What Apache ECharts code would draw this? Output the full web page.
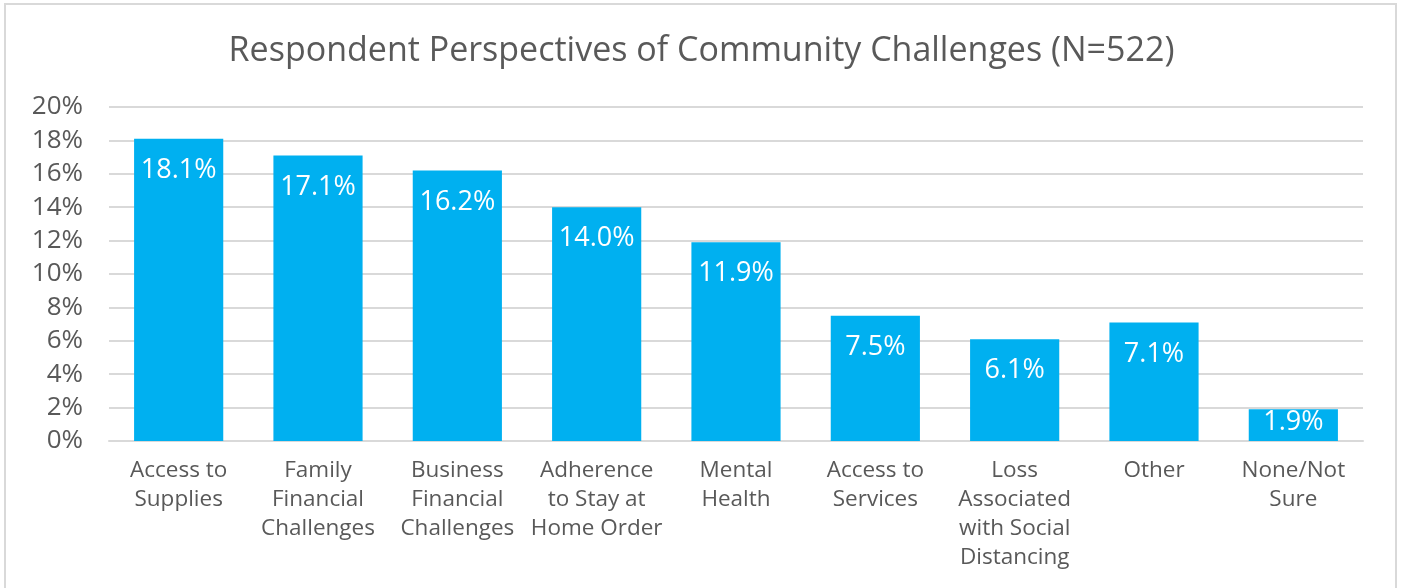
<!DOCTYPE html>
<html>
<head>
<meta charset="utf-8">
<script src="https://cdn.jsdelivr.net/npm/echarts@6/dist/echarts.min.js"></script>
<style>
  html, body { margin: 0; padding: 0; background: #fff; }
  #chart { width: 1403px; height: 588px; }
</style>
</head>
<body>
<div id="chart"></div>
<script>
const categories = [
  'Access to\nSupplies',
  'Family\nFinancial\nChallenges',
  'Business\nFinancial\nChallenges',
  'Adherence\nto Stay at\nHome Order',
  'Mental\nHealth',
  'Access to\nServices',
  'Loss\nAssociated\nwith Social\nDistancing',
  'Other',
  'None/Not\nSure'
];
const values = [18.1, 17.1, 16.2, 14.0, 11.9, 7.5, 6.1, 7.1, 1.9];
const yTicks = [0, 2, 4, 6, 8, 10, 12, 14, 16, 18, 20];

const FONT = '"Open Sans", "Noto Sans", sans-serif';
const textColor = '#595959';
const barColor = '#00B0F0';

const chart = echarts.init(document.getElementById('chart'));

const option = {
  animation: false,
  title: {
    text: 'Respondent Perspectives of Community Challenges (N=522)',
    left: 'center',
    top: 29,
    textStyle: { color: textColor, fontFamily: FONT, fontSize: 34, fontWeight: 'normal' }
  },
  graphic: [{
    type: 'rect',
    shape: { x: 5, y: 4, width: 1391, height: 620 },
    style: { fill: 'none', stroke: '#d9d9d9', lineWidth: 2 },
    silent: true
  }],
  grid: { left: 109, right: 40, top: 107, bottom: 147 },
  xAxis: {
    type: 'category',
    data: categories,
    axisLine: { show: true, lineStyle: { color: '#d9d9d9', width: 2 } },
    axisTick: { show: false },
    axisLabel: {
      color: textColor,
      fontFamily: FONT,
      fontSize: 22.5,
      lineHeight: 29,
      margin: 15,
      interval: 0
    }
  },
  yAxis: {
    type: 'value',
    min: yTicks[0],
    max: yTicks[yTicks.length - 1],
    interval: 2,
    axisLine: { show: false },
    axisTick: { show: false },
    axisLabel: {
      color: textColor,
      fontFamily: FONT,
      fontSize: 26,
      margin: 26,
      formatter: v => v + '%'
    },
    splitLine: { lineStyle: { color: '#d9d9d9', width: 2 } }
  },
  series: [{
    type: 'bar',
    barCategoryGap: '36%',
    itemStyle: { color: barColor },
    label: {
      show: true,
      position: 'insideTop',
      distance: 18,
      color: '#fff',
      fontFamily: FONT,
      fontSize: 27,
      formatter: p => p.value.toFixed(1) + '%'
    },
    data: values.map(v => v < 3 ? { value: v, label: { distance: 0 } } : v)
  }]
};

chart.setOption(option);
</script>
</body>
</html>
